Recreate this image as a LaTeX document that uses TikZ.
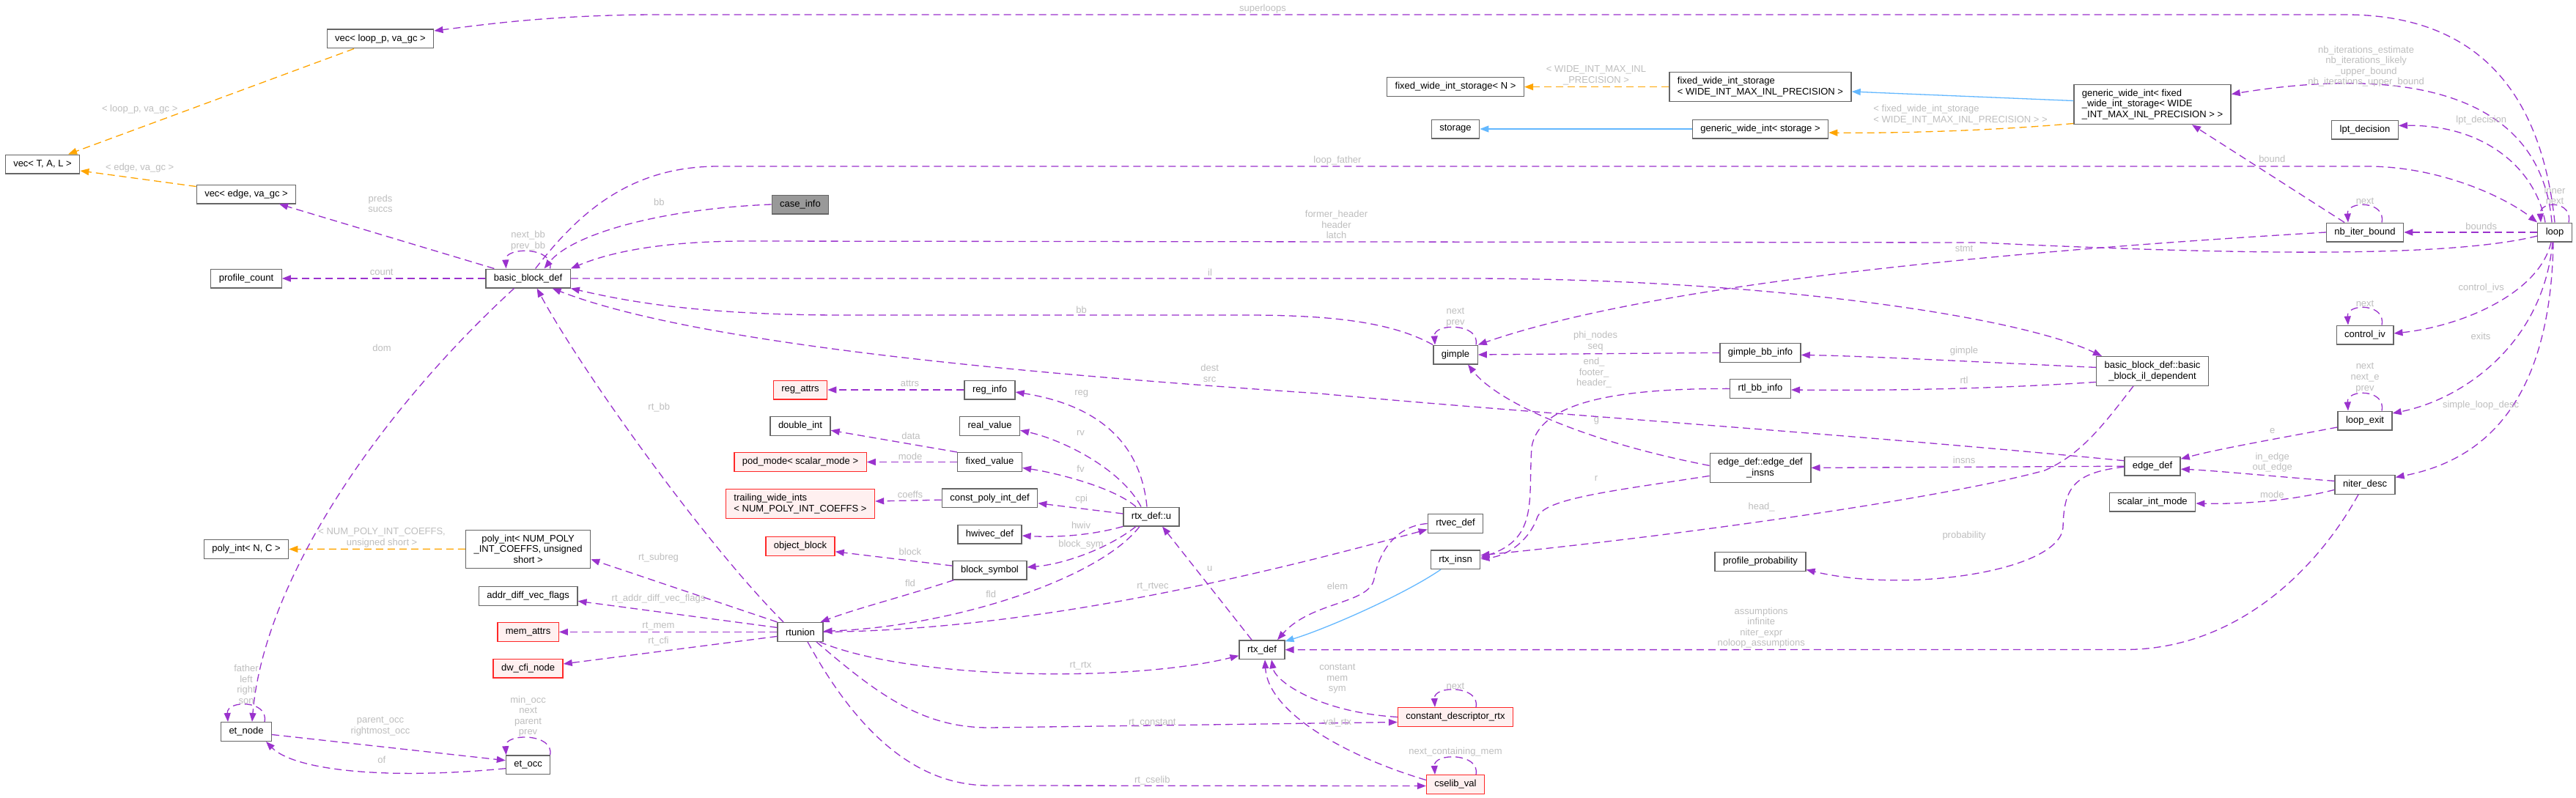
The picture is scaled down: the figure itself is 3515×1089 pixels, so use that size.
\documentclass[tikz,border=0pt]{standalone}
\usepackage{fontspec}
\setmainfont{Liberation Sans}
\usetikzlibrary{arrows.meta}
\definecolor{orchid}{RGB}{154,50,205}
\definecolor{tmplorange}{RGB}{255,165,0}
\definecolor{inhblue}{RGB}{99,184,255}
\definecolor{nodegray}{RGB}{102,102,102}
\definecolor{labelgray}{RGB}{190,190,190}
\definecolor{classred}{RGB}{255,40,40}
\definecolor{classredfill}{RGB}{255,240,240}
\definecolor{focusgray}{RGB}{153,153,153}
\tikzset{%
	every class/.style={
		draw=nodegray,
		fill=white,
		line width=1.3pt,
		minimum height=25.7pt,
		inner xsep=11pt,
		inner ysep=6.5pt,
		font=\fontsize{13}{14.6}\selectfont
	},
	class red/.style={
		draw=classred,
		fill=classredfill
	},
	class focus/.style={
		fill=focusgray
	},
	link label/.style={
		text=labelgray,
		inner sep=0pt,
		align=center,
		font=\fontsize{13}{14.6}\selectfont
	},
	member link/.style={
		draw=orchid,
		line width=1.3pt,
		dash pattern=on 10pt off 6pt,
		-{Triangle[length=12pt,width=9pt]}
	},
	templ link/.style={
		member link,
		draw=tmplorange
	},
	inherit link/.style={
		member link,
		draw=inhblue,
		solid
	},
}

\begin{document}
\begin{tikzpicture}[x=1pt, y=-1pt]
		
		\path[use as bounding box, fill=white] (0,0) rectangle (3515,1089);
		
		\node [every class] (vecloop) at (519,53) {vec< loop\_p, va\_gc >};
		\node [every class] (vectal) at (58,224) {vec< T, A, L >};
		\node [every class] (vecedge) at (336,265) {vec< edge, va\_gc >};
		\node [every class] (profcount) at (336,380) {profile\_count};
		\node [every class] (bbd) at (720.6,380) {basic\_block\_def};
		\node [every class, class focus] (caseinfo) at (1092,279) {case\_info};
		\node [every class, class red] (regattrs) at (1092,532) {reg\_attrs};
		\node [every class] (reginfo) at (1350.5,532) {reg\_info};
		\node [every class] (fwisn) at (1986,118.6) {fixed\_wide\_int\_storage< N >};
		\node [every class, align=left] (fwiswide) at (2402,118.6) {fixed\_wide\_int\_storage\\< WIDE\_INT\_MAX\_INL\_PRECISION >};
		\node [every class] (storage) at (1986,176) {storage};
		\node [every class] (gwistorage) at (2402,176) {generic\_wide\_int< storage >};
		\node [every class] (gimple) at (1986,484) {gimple};
		\node [every class] (gbbinfo) at (2402,481.4) {gimple\_bb\_info};
		\node [every class] (rtlbbinfo) at (2402,530.4) {rtl\_bb\_info};
		\node [every class, align=left] (gwifixed) at (2937,142.5) {generic\_wide\_int< fixed\\\_wide\_int\_storage< WIDE\\\_INT\_MAX\_INL\_PRECISION > >};
		\node [every class, align=center] (bbdil) at (2937,506.4) {basic\_block\_def::basic\\\_block\_il\_dependent};
		\node [every class] (lptdec) at (3227,177) {lpt\_decision};
		\node [every class] (nbiter) at (3227,317) {nb\_iter\_bound};
		\node [every class] (loop) at (3486,317) {loop};
		\node [every class] (controliv) at (3227,457) {control\_iv};
		\node [every class] (loopexit) at (3227,574) {loop\_exit};
		\node [every class] (niterdesc) at (3227,661.4) {niter\_desc};
		\node [every class] (edgedef) at (2937,636.2) {edge\_def};
		\node [every class] (scalarmode) at (2937,685) {scalar\_int\_mode};
		\node [every class, align=center] (edgeinsns) at (2402,638.4) {edge\_def::edge\_def\\\_insns};
		\node [every class] (profprob) at (2402,766.4) {profile\_probability};
		\node [every class] (polyintnc) at (336,749.4) {poly\_int< N, C >};
		\node [every class] (etnode) at (336,998.5) {et\_node};
		\node [every class, align=center] (polyintnum) at (720.6,749.3) {poly\_int< NUM\_POLY\\\_INT\_COEFFS, unsigned\\short >};
		\node [every class] (addrdiff) at (720.6,813.3) {addr\_diff\_vec\_flags};
		\node [every class, class red] (memattrs) at (720.6,862.4) {mem\_attrs};
		\node [every class, class red] (dwcfi) at (720.6,912) {dw\_cfi\_node};
		\node [every class] (etocc) at (720.6,1043.7) {et\_occ};
		\node [every class] (rtunion) at (1092,862.4) {rtunion};
		\node [every class] (doubleint) at (1092,581.3) {double\_int};
		\node [every class, class red] (podmode) at (1092,630.5) {pod\_mode< scalar\_mode >};
		\node [every class, class red, align=left] (trailing) at (1092,687.6) {trailing\_wide\_ints\\< NUM\_POLY\_INT\_COEFFS >};
		\node [every class, class red] (objblock) at (1092,745.3) {object\_block};
		\node [every class] (realvalue) at (1350.5,581.3) {real\_value};
		\node [every class] (fixedvalue) at (1350.5,630.5) {fixed\_value};
		\node [every class] (cpoly) at (1350.5,679.7) {const\_poly\_int\_def};
		\node [every class] (hwivec) at (1350.5,729) {hwivec\_def};
		\node [every class] (blocksym) at (1350.5,778.1) {block\_symbol};
		\node [every class] (rtxu) at (1571,705) {rtx\_def::u};
		\node [every class] (rtxdef) at (1722,886.7) {rtx\_def};
		\node [every class] (rtvec) at (1986,714.5) {rtvec\_def};
		\node [every class] (rtxinsn) at (1986,763.7) {rtx\_insn};
		\node [every class, class red] (cdr) at (1986,978.5) {constant\_descriptor\_rtx};
		\node [every class, class red] (cselib) at (1986,1070.5) {cselib\_val};
		
		\draw [templ link] ([xshift=-36]vecloop.south) -- ([xshift=35]vectal.north)
		node [link label] (l-vecloop) at (190.7,149.3) {< loop\_p, va\_gc >};
		\draw [templ link] ([yshift=-3]vecedge.north west) -- ([yshift=-9]vectal.east)
		node [link label] (l-vecedge) at (190.7,229.3) {< edge, va\_gc >};
		\draw [templ link] (fwiswide.west) -- (fwisn.east)
		node [link label] (l-fwis) at (2178,103) {< WIDE\_INT\_MAX\_INL\\\_PRECISION >};
		\draw [templ link] ([yshift=-26]gwifixed.west) .. controls (2700,180) and (2560,182) .. ([yshift=-5]gwistorage.east)
		node [link label, align=left, anchor=west] (l-gwi) at (2555.8,156.3) {< fixed\_wide\_int\_storage\\< WIDE\_INT\_MAX\_INL\_PRECISION > >};
		\draw [templ link] (polyintnum.west) -- (polyintnc.east)
		node [link label] (l-poly) at (521.1,733.9) {< NUM\_POLY\_INT\_COEFFS,\\unsigned short >};
		
		\draw [inherit link] (gwistorage.west) -- (storage.east);
		\draw [inherit link] ([yshift=5]gwifixed.west) -- ([yshift=-6.4]fwiswide.east);
		\draw [inherit link] ([xshift=-20]rtxinsn.south) .. controls (1915,812) and (1810,858) .. ([yshift=-2]rtxdef.north east);
		
		\foreach \n/\d/\l in {bbd/30/{next\_bb\\prev\_bb}, gimple/28/{next\\prev}, nbiter/23/next, loop/19/{inner\\next}, controliv/23/next, loopexit/23/{next\\next\_e\\prev}, cdr/28/next, cselib/28/{next\_containing\_mem}, etnode/25/{father\\left\\right\\son}, etocc/30/{min\_occ\\next\\parent\\prev}}
		\draw [member link] ([xshift=\d]\n.north) .. controls +(6,-30) and +(-2,-30) .. ([xshift=-\d]\n.north)
		node [link label, anchor=south] (\n-self) at ([yshift=24]\n.north) {\l};
		
		\draw [member link] (loop.north) .. controls (3470,150) and (3400,20) .. (3200,20) -- (900,20) .. controls (750,20) and (650,35) .. ([yshift=11]vecloop.east)
		node [link label] (l-superloops) at (1723,12.1) {superloops};
		\draw [member link] ([xshift=-4]loop.north) .. controls (3465,110) and (3250,95) .. ([yshift=14]gwifixed.east)
		node [link label] (l-nbiter) at (3228.6,90.7) {nb\_iterations\_estimate\\nb\_iterations\_likely\\\_upper\_bound\\nb\_iterations\_upper\_bound};
		\draw [member link] ([xshift=-13]loop.north) .. controls (3460,230) and (3390,170) .. ([yshift=5.6]lptdec.east)
		node [link label] (l-lpt) at (3385.7,164.6) {lpt\_decision};
		\draw [member link] ([xshift=10]bbd.north) .. controls (790,290) and (860,227) .. (980,227) -- (3230,227) .. controls (3330,227) and (3420,270) .. (loop.north west)
		node [link label] (l-father) at (1825,219.6) {loop\_father};
		\draw [member link] (loop.west) -- (nbiter.east)
		node [link label] (l-bounds) at (3385.7,308.9) {bounds};
		\draw [member link] ([xshift=-5]loop.south) .. controls (3465,400) and (3360,445) .. ([yshift=2]controliv.east)
		node [link label] (l-civ) at (3385.7,392.9) {control\_ivs};
		\draw [member link] ([xshift=-3]loop.south) .. controls (3470,470) and (3360,545) .. ([yshift=10]loopexit.east)
		node [link label] (l-exits) at (3385,458.6) {exits};
		\draw [member link] ([xshift=-2]loop.south) .. controls (3480,560) and (3380,630) .. ([yshift=10]niterdesc.east)
		node [link label] (l-sld) at (3385,552.9) {simple\_loop\_desc};
		\draw [member link] ([xshift=-28]nbiter.north) -- ([xshift=54]gwifixed.south)
		node [link label] (l-bound) at (3100.3,216.8) {bound};
		\draw [member link] (nbiter.west) .. controls (2700,345) and (2250,390) .. (gimple.north east)
		node [link label] (l-stmt) at (2680,339.6) {stmt};
		\draw [member link] ([yshift=-5]loop.west) .. controls (3330,355) and (3000,345) .. (2700,331) -- (1020,329) .. controls (900,329) and (830,345) .. (bbd.north east)
		node [link label] (l-header) at (1823.5,306.4) {former\_header\\header\\latch};
		\draw [member link] (bbd.east) -- (2000,380) .. controls (2400,380) and (2750,430) .. ([xshift=8]bbdil.north west)
		node [link label] (l-il) at (1651,371.8) {il};
		\draw [member link] (gimple.north west) .. controls (1900,440) and (1820,430) .. (1700,430) -- (1150,430) .. controls (950,430) and (850,410) .. (bbd.south east)
		node [link label] (l-bb2) at (1475.7,422.5) {bb};
		\draw [member link] ([yshift=-6]edgedef.north west) .. controls (2500,590) and (2100,565) .. (1800,537) .. controls (1400,510) and (950,470) .. ([xshift=33]bbd.south)
		node [link label] (l-dest) at (1650.6,509.6) {dest\\src};
		\draw [member link] ([xshift=-23]rtunion.north) .. controls (960,740) and (790,500) .. ([xshift=12]bbd.south)
		node [link label] (l-rtbb) at (899.3,555.7) {rt\_bb};
		\draw [member link] (caseinfo.west) .. controls (900,285) and (780,320) .. ([xshift=22]bbd.north)
		node [link label] (l-bb1) at (899.3,275.7) {bb};
		\draw [member link] ([xshift=12]bbd.north west) -- ([xshift=45]vecedge.south)
		node [link label] (l-preds) at (519,278) {preds\\succs};
		\draw [member link] (bbd.west) -- (profcount.east)
		node [link label] (l-count) at (520.7,371.8) {count};
		\draw [member link] ([xshift=-19]bbd.south) .. controls (520,560) and (360,790) .. ([xshift=8]etnode.north)
		node [link label] (l-dom) at (521,474.6) {dom};
		
		\draw [member link] (reginfo.west) -- (regattrs.east)
		node [link label] (l-attrs) at (1241.5,523.6) {attrs};
		\draw [member link] ([xshift=-6]rtxu.north) .. controls (1555,590) and (1480,550) .. ([yshift=-3]reginfo.east)
		node [link label] (l-reg) at (1475.7,537.5) {reg};
		\draw [member link] ([xshift=-14]rtxu.north) .. controls (1530,640) and (1450,600) .. ([yshift=-6]realvalue.east)
		node [link label] (l-rv) at (1474.5,590.6) {rv};
		\draw [member link] ([xshift=-21]rtxu.north) .. controls (1520,665) and (1440,645) .. ([yshift=-8]fixedvalue.east)
		node [link label] (l-fv) at (1474.5,639.8) {fv};
		\draw [member link] ([yshift=4]rtxu.west) -- ([yshift=-7]cpoly.east)
		node [link label] (l-cpi) at (1475.7,681.2) {cpi};
		\draw [member link] (rtxu.south west) .. controls (1480,733) and (1430,733) .. ([yshift=-2]hwivec.east)
		node [link label] (l-hwiv) at (1475,716.8) {hwiv};
		\draw [member link] ([xshift=-21]rtxu.south) .. controls (1510,750) and (1450,770) .. ([yshift=4]blocksym.east)
		node [link label] (l-bsym) at (1475,742.8) {block\_sym};
		\draw [member link] ([xshift=-16]rtxu.south) .. controls (1500,790) and (1300,855) .. ([yshift=1]rtunion.east)
		node [link label] (l-fld2) at (1352.2,810.6) {fld};
		\draw [member link] ([xshift=2]blocksym.south west) .. controls (1230,815) and (1170,830) .. ([xshift=-4]rtunion.north east)
		node [link label] (l-fld1) at (1242,795.6) {fld};
		\draw [member link] ([yshift=6]blocksym.west) -- ([yshift=-7.5]objblock.east)
		node [link label] (l-block) at (1241.9,753.2) {block};
		\draw [member link] (fixedvalue.north west) -- ([yshift=-6]doubleint.east)
		node [link label] (l-data) at (1243,594.9) {data};
		\draw [member link] (fixedvalue.west) -- (podmode.east)
		node [link label] (l-mode1) at (1242,622.7) {mode};
		\draw [member link] ([yshift=-2.5]cpoly.west) -- ([yshift=3.6]trailing.east)
		node [link label] (l-coeffs) at (1242,674.7) {coeffs};
		\draw [member link] ([xshift=-14]rtxdef.north) -- ([xshift=15]rtxu.south)
		node [link label] (l-u) at (1650.7,776) {u};
		
		\draw [member link] (rtunion.north west) -- ([yshift=-14]polyintnum.east)
		node [link label] (l-subreg) at (898.5,761) {rt\_subreg};
		\draw [member link] ([yshift=6]rtunion.west) -- ([yshift=-7]addrdiff.east)
		node [link label] (l-addr) at (898.5,817) {rt\_addr\_diff\_vec\_flags};
		\draw [member link] (rtunion.west) -- (memattrs.east)
		node [link label] (l-mem) at (898.5,854.8) {rt\_mem};
		\draw [member link] ([yshift=-6]rtunion.west) -- ([yshift=6]dwcfi.east)
		node [link label] (l-cfi) at (898.5,874.7) {rt\_cfi};
		\draw [member link] (rtunion.east) .. controls (1400,860) and (1700,790) .. ([yshift=-8]rtvec.west)
		node [link label] (l-rtvec) at (1573,801) {rt\_rtvec};
		\draw [member link] ([xshift=26]rtunion.south) .. controls (1250,930) and (1550,930) .. ([yshift=-8]rtxdef.west)
		node [link label] (l-rtrtx) at (1474.5,908.6) {rt\_rtx};
		\draw [member link] ([xshift=22]rtunion.south) .. controls (1200,950) and (1260,993) .. (1350,993) -- ([yshift=-7]cdr.west)
		node [link label] (l-rtconst) at (1572.3,986.3) {rt\_constant};
		\draw [member link] ([xshift=10]rtunion.south) .. controls (1170,1000) and (1250,1072) .. (1350,1072) -- ([yshift=-2]cselib.west)
		node [link label] (l-rtcselib) at (1572.3,1064.8) {rt\_cselib};
		
		\draw [member link] (rtvec.west) .. controls (1900,718) and (1880,760) .. (1875,790) .. controls (1868,825) and (1790,820) .. ([xshift=21]rtxdef.north)
		node [link label] (l-elem) at (1825,800) {elem};
		\draw [member link] (cdr.west) .. controls (1800,972) and (1740,930) .. ([xshift=13]rtxdef.south)
		node [link label] (l-cms) at (1824.8,926.4) {constant\\mem\\sym};
		\draw [member link] ([yshift=6]cselib.west) .. controls (1830,1030) and (1730,970) .. ([xshift=4]rtxdef.south)
		node [link label] (l-valrtx) at (1825,986.3) {val\_rtx};
		
		\draw [member link] (rtlbbinfo.west) .. controls (2200,530) and (2100,550) .. (2090,610) .. controls (2085,680) and (2100,735) .. ([yshift=3]rtxinsn.east)
		node [link label] (l-end) at (2175,508.9) {end\_\\footer\_\\header\_};
		\draw [member link] ([yshift=-11]edgeinsns.west) .. controls (2200,670) and (2110,680) .. (2098,705) .. controls (2088,735) and (2060,758) .. ([yshift=1]rtxinsn.east)
		node [link label] (l-r) at (2178,653) {r};
		\draw [member link] ([xshift=-26]bbdil.south) .. controls (2870,580) and (2840,620) .. (2790,642) .. controls (2650,680) and (2300,730) .. ([yshift=6]rtxinsn.east)
		node [link label] (l-head) at (2403.6,692.2) {head\_};
		\draw [member link] ([yshift=3]edgeinsns.west) .. controls (2150,600) and (2040,545) .. ([xshift=17]gimple.south)
		node [link label] (l-g) at (2178.5,573.9) {g};
		\draw [member link] (gbbinfo.west) -- (gimple.east)
		node [link label] (l-phi) at (2177,465.7) {phi\_nodes\\seq};
		\draw [member link] ([yshift=5]bbdil.west) .. controls (2700,494) and (2550,486) .. ([yshift=-3]gbbinfo.east)
		node [link label] (l-gimple) at (2680,479.6) {gimple};
		\draw [member link] ([yshift=-15]bbdil.west) .. controls (2700,532) and (2550,533) .. ([yshift=-1.6]rtlbbinfo.east)
		node [link label] (l-rtl) at (2680,518.6) {rtl};
		
		\draw [member link] (edgedef.west) -- (edgeinsns.east)
		node [link label] (l-insns) at (2680.1,627.7) {insns};
		\draw [member link] ([yshift=-1]edgedef.west) .. controls (2830,645) and (2816,665) .. (2815,720) .. controls (2810,780) and (2600,810) .. ([yshift=-11]profprob.east)
		node [link label] (l-prob) at (2680.1,730.7) {probability};
		\draw [member link] ([yshift=-9]loopexit.west) .. controls (3100,600) and (3030,612) .. ([yshift=10]edgedef.east)
		node [link label] (l-e) at (3100.6,587.8) {e};
		\draw [member link] ([yshift=5]niterdesc.west) .. controls (3100,650) and (3020,642) .. ([yshift=-4]edgedef.east)
		node [link label] (l-inout) at (3100.6,631.1) {in\_edge\\out\_edge};
		\draw [member link] ([yshift=-7]niterdesc.west) .. controls (3120,685) and (3050,688) .. ([yshift=-2]scalarmode.east)
		node [link label] (l-mode2) at (3100.3,674.7) {mode};
		\draw [member link] ([xshift=-9]niterdesc.south) .. controls (3160,780) and (3050,886) .. (2900,886.5) -- (rtxdef.east)
		node [link label] (l-assume) at (2403.2,856.7) {assumptions\\infinite\\niter\_expr\\noloop\_assumptions};
		
		\draw [member link] ([yshift=-4]etnode.east) -- ([yshift=6]etocc.west)
		node [link label] (l-occ) at (519,991.3) {parent\_occ\\rightmost\_occ};
		\draw [member link] ([yshift=-5]etocc.west) .. controls (520,1065) and (400,1050) .. ([xshift=27]etnode.south)
		node [link label] (l-of) at (520.7,1037) {of};
		
\end{tikzpicture}
\end{document}
